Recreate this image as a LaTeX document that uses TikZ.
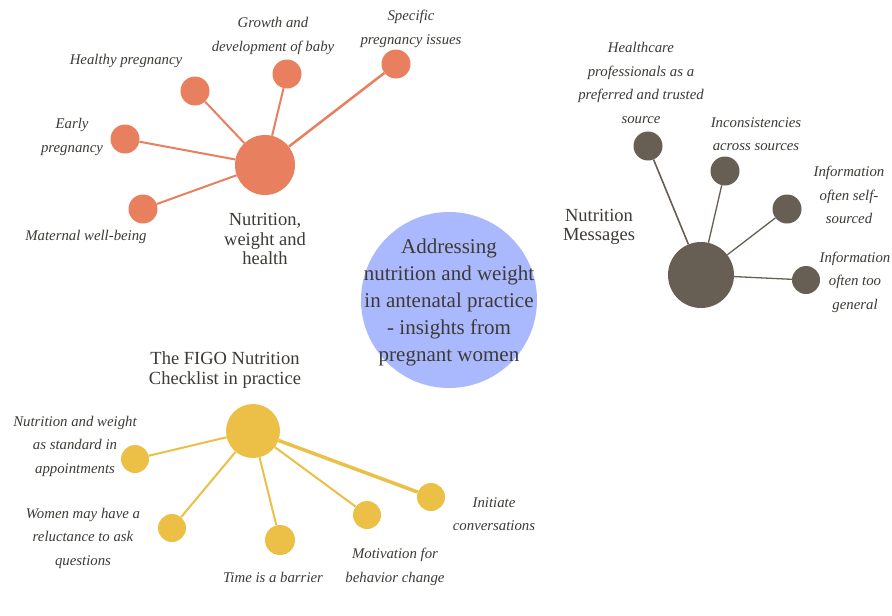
\documentclass[tikz,border=0pt]{standalone}
\usepackage{fontspec}
\setmainfont{Liberation Serif}
\definecolor{txt}{HTML}{3D3A36}
\definecolor{org}{HTML}{E8805F}
\definecolor{gry}{HTML}{675F54}
\definecolor{ylw}{HTML}{ECC046}
\definecolor{blu}{HTML}{AAB9FD}
\begin{document}
\begin{tikzpicture}[x=1pt,y=-1pt,
  dot/.style={circle,inner sep=0pt,minimum size=#1},
  lbl/.style={text=txt,align=center,font=\fontsize{14.8}{23.5}\selectfont\itshape,inner sep=0pt},
  head/.style={text=txt,align=center,font=\fontsize{18.5}{19.5}\selectfont,inner sep=0pt},
  ol/.style={draw=org,line width=2pt},
  gl/.style={draw=gry,line width=1.3pt},
  yl/.style={draw=ylw,line width=2pt}]
\useasboundingbox (0,0) rectangle (892,616);
\fill[white] (0,0) rectangle (892,616);
% centre
\node[dot=176pt,fill=blu] (c) at (449,300) {};
\node[text=txt,align=center,font=\fontsize{21}{27}\selectfont,inner sep=0pt] (ct) at (449,302)
 {Addressing\\nutrition and weight\\in antenatal practice\\- insights from\\pregnant women};
% orange group
\node[dot=60pt,fill=org] (oh) at (265,165) {};
\node[dot=29pt,fill=org] (o1) at (195,91) {};
\node[dot=29pt,fill=org] (o2) at (287,74) {};
\node[dot=29pt,fill=org] (o3) at (396,64) {};
\node[dot=29pt,fill=org] (o4) at (125,139) {};
\node[dot=29pt,fill=org] (o5) at (143,209) {};
\draw[ol] (oh) -- (o1);
\draw[ol] (oh) -- (o2);
\draw[ol,line width=2.5pt] (oh) -- (o3);
\draw[ol] (oh) -- (o4);
\draw[ol] (oh) -- (o5);
\node[lbl] (lo1) at (126,61) {Healthy pregnancy};
\node[lbl] (lo2) at (273,36) {Growth and\\development of baby};
\node[lbl] (lo3) at (411,29) {Specific\\pregnancy issues};
\node[lbl] (lo4) at (72,137) {Early\\pregnancy};
\node[lbl] (lo5) at (86,237) {Maternal well-being};
\node[head] (ho) at (265,239) {Nutrition,\\weight and\\health};
% gray group
\node[dot=66pt,fill=gry] (gh) at (701,275) {};
\node[dot=29pt,fill=gry] (g1) at (648,146) {};
\node[dot=29pt,fill=gry] (g2) at (725,171) {};
\node[dot=29pt,fill=gry] (g3) at (787,209) {};
\node[dot=28pt,fill=gry] (g4) at (806,280) {};
\draw[gl,line width=1.6pt] (gh) -- (g1);
\draw[gl] (gh) -- (g2);
\draw[gl] (gh) -- (g3);
\draw[gl] (gh) -- (g4);
\node[lbl] (lg1) at (641,83) {Healthcare\\professionals as a\\preferred and trusted\\source};
\node[lbl] (lg2) at (756,134) {Inconsistencies\\across sources};
\node[lbl] (lg3) at (849,195) {Information\\often self-\\sourced};
\node[lbl] (lg4) at (855,282) {Information\\often too\\general};
\node[head] (hg) at (599,227) {Nutrition\\Messages};
% yellow group
\node[dot=54pt,fill=ylw] (yh) at (253,431) {};
\node[dot=28pt,fill=ylw] (y1) at (135,459) {};
\node[dot=28pt,fill=ylw] (y2) at (172,528) {};
\node[dot=30pt,fill=ylw] (y3) at (280,540) {};
\node[dot=28pt,fill=ylw] (y4) at (367,515) {};
\node[dot=28pt,fill=ylw] (y5) at (431,497) {};
\draw[yl] (yh) -- (y1);
\draw[yl] (yh) -- (y2);
\draw[yl] (yh) -- (y3);
\draw[yl] (yh) -- (y4);
\draw[yl,line width=3.5pt] (yh) -- (y5);
\node[lbl] (ly1) at (75,446) {Nutrition and weight\\as standard in\\appointments};
\node[lbl] (ly2) at (83,538) {Women may have a\\reluctance to ask\\questions};
\node[lbl] (ly3) at (273,577) {Time is a barrier};
\node[lbl] (ly4) at (395,567) {Motivation for\\behavior change};
\node[lbl] (ly5) at (494,514) {Initiate\\conversations};
\node[head] (hy) at (225,370) {The FIGO Nutrition\\Checklist in practice};
\end{tikzpicture}
\end{document}
